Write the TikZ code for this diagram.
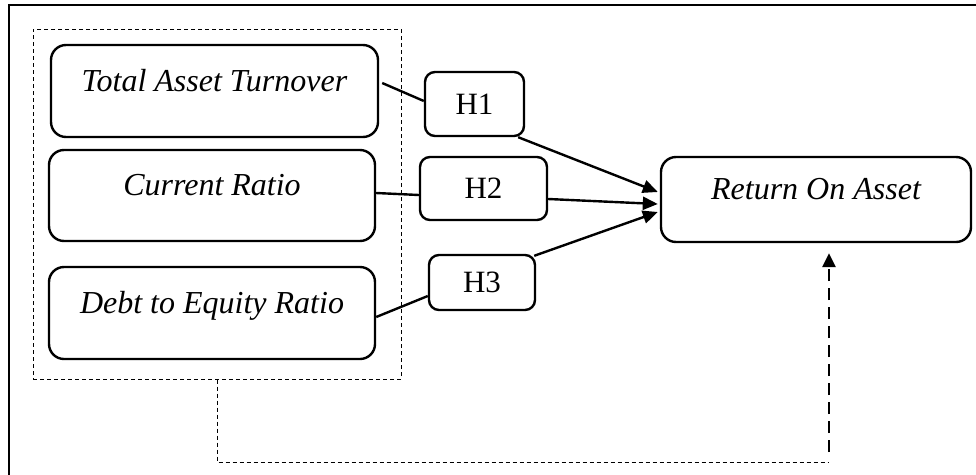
\documentclass[tikz,border=0pt]{standalone}
\usepackage{fontspec}
\setmainfont{Liberation Serif}
\usetikzlibrary{arrows.meta}
\begin{document}
\begin{tikzpicture}[x=1pt,y=-1pt,
  bigbox/.style={draw,line width=2.4pt,rounded corners=15pt,inner sep=0pt,
    font=\fontsize{32}{38}\selectfont\itshape,text height=22pt,text depth=22pt},
  hbox/.style={draw,line width=2.4pt,rounded corners=10pt,inner sep=0pt,
    font=\fontsize{31}{36}\selectfont},
  conn/.style={line width=2.4pt},
  arr/.style={line width=2.4pt,-{Triangle[length=15pt,width=13pt]}},
  grpbox/.style={draw,line width=1pt,dash pattern=on 4pt off 3pt,inner sep=0pt}
]
\useasboundingbox (0,0) rectangle (976,474);
\draw[line width=2.8pt] (9,476) -- (9,5) -- (978,5);

\node[grpbox,minimum width=368pt,minimum height=350pt] (grp) at (217,204) {};

\node[bigbox,minimum width=327pt,minimum height=92pt] (tat) at (214.5,91) {Total Asset Turnover};
\node[bigbox,minimum width=326pt,minimum height=91pt] (cr) at (212,195.5) {Current Ratio};
\node[bigbox,minimum width=326pt,minimum height=92pt] (der) at (212,313) {Debt to Equity Ratio};

\node[hbox,minimum width=99pt,minimum height=64pt] (h1) at (474.5,104) {H1};
\node[hbox,minimum width=127pt,minimum height=63pt] (h2) at (483.5,188.5) {H2};
\node[hbox,minimum width=106pt,minimum height=55pt] (h3) at (482,282.5) {H3};

\node[bigbox,minimum width=310pt,minimum height=85pt] (roa) at (816,199.5) {Return On Asset};

\draw[conn] ([xshift=3pt,yshift=8pt]tat.east) -- ([yshift=3pt]h1.west);
\draw[arr] ([xshift=-7pt]h1.south east) -- ([xshift=-2pt,yshift=7.5pt]roa.west);
\draw[conn] ([yshift=2.5pt]cr.east) -- ([yshift=-6.5pt]h2.west);
\draw[arr] ([yshift=-10.5pt]h2.east) -- ([xshift=-2pt,yshift=-4.5pt]roa.west);
\draw[conn] ([yshift=-4pt]der.east) -- ([yshift=-13.5pt]h3.west);
\draw[arr] ([xshift=-2pt,yshift=-2pt]h3.north east) -- ([xshift=-2pt,yshift=-12.5pt]roa.west);

\coordinate (corner) at (829,462);
\draw[line width=1pt,dash pattern=on 4pt off 3pt] (grp.south) |- (corner);
\draw[line width=2.8pt,dash pattern=on 12pt off 7pt,-{Triangle[length=14pt,width=13pt]},shorten >=10pt]
  ([yshift=10pt]corner) -- (roa.south -| corner);
\end{tikzpicture}
\end{document}
